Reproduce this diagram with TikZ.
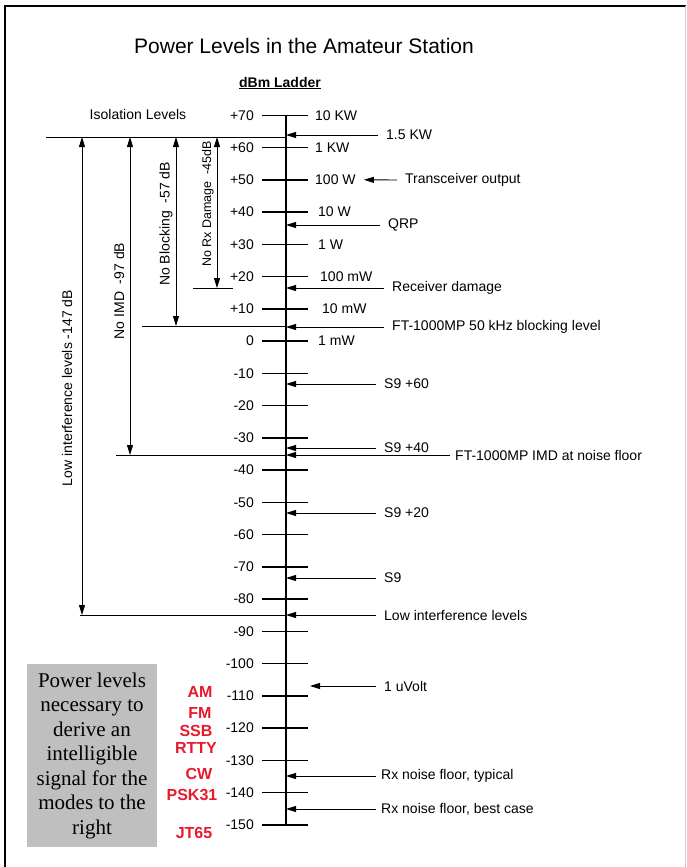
\documentclass[tikz,border=0pt]{standalone}
\usepackage{fontspec}
\setmainfont{Liberation Sans}
\newfontfamily\boxfont{Liberation Serif}
\usepackage{tikz}
\usetikzlibrary{arrows.meta,calc}
\definecolor{modered}{HTML}{E8192C}
\definecolor{boxgray}{HTML}{BFBFBF}

\begin{document}
\begin{tikzpicture}[
  x=1pt,y=-1pt,font=\fontsize{14}{16}\selectfont,
  tk/.style={line width=1.5pt},
  lvl/.style={line width=0.9pt},
  pt/.style={-{Triangle[length=10pt,width=6pt]},line width=0.9pt},
  dbl/.style={{Triangle[length=10pt,width=6pt]}-{Triangle[length=10pt,width=6pt]},line width=0.9pt},
  ann/.style={anchor=west,inner xsep=8pt,inner ysep=1pt},
  lab/.style={inner sep=0pt},
  mode/.style={text=modered,font=\fontsize{16}{18}\selectfont\bfseries},
  note/.style={fill=boxgray,minimum width=130pt,minimum height=183pt,align=center,font=\boxfont\fontsize{21}{24.5}\selectfont}
]
\useasboundingbox (0,0) rectangle (686,867);
\draw[line width=1.2pt] (5,867) -- (5,6) -- (686,6);
\draw[black!20] (685,6) -- (685,867);

\node[font=\fontsize{21}{24}\selectfont] (title) at (304,46) {Power Levels in the Amateur Station};
\node[font=\fontsize{14}{16}\selectfont\bfseries] (ladder) at (280,83) {\underline{dBm Ladder}};
\node (iso) at (138,114) {Isolation Levels};

% the ladder
\coordinate (axtop) at (286,115.25);
\coordinate (axbot) at (286,824.75);
\draw[line width=1.6pt] (axtop) -- (axbot);
\foreach \v [count=\i] in {70,60,...,-150}{
  \pgfmathsetmacro\yy{341-3.225*\v}
  \draw[tk] (262,\yy) -- (308,\yy);
  \node[lab,anchor=east] (d\i) at (254,\yy) {\ifnum\v>0 +\fi\v};
}
\foreach \v/\x/\t in {70/315/10 KW,60/315/1 KW,50/315/100 W,40/318/10 W,30/318/1 W,20/320/100 mW,10/322/10 mW,0/318/1 mW}{
  \pgfmathsetmacro\yy{341-3.225*\v}
  \node[lab,anchor=west] (w\v) at (\x,\yy) {\t};
}

% isolation levels
\coordinate (isoL) at (46,137);
\coordinate (liL) at (80,615);
\coordinate (imdL) at (116,455);
\coordinate (blkL) at (142,326);
\coordinate (rxL) at (193,288);
\coordinate (rxR) at (233,288);
\draw[lvl] (isoL) -- (isoL -| axtop);
\draw[lvl] (liL) -- (liL -| axtop);
\draw[lvl] (imdL) -- (imdL -| axtop);
\draw[lvl] (blkL) -- (blkL -| axtop);
\draw[lvl] (rxL) -- (rxR);

\coordinate (liT) at (82,137);
\coordinate (imdT) at (130,137);
\coordinate (blkT) at (176,137);
\coordinate (rxT) at (217,137);
\draw[dbl] (liT) -- (liT |- liL);
\draw[dbl] (imdT) -- (imdT |- imdL);
\draw[dbl] (blkT) -- (blkT |- blkL);
\draw[dbl] (rxT) -- (rxT |- rxL);

\node[rotate=90] (lilab) at (67,388) {Low interference levels -147 dB};
\node[rotate=90] (imdlab) at (119,291) {No IMD\ \ -97 dB};
\node[rotate=90] (blklab) at (166,224) {No Blocking\ \ -57 dB};
\node[rotate=90,font=\fontsize{12.5}{14}\selectfont] (rxlab) at (208,204) {No Rx Damage\ \ -45dB};

% pointers on the right
\node[ann] (kw15) at (378,135) {1.5 KW};
\node[ann] (txo) at (397,180) {Transceiver output};
\node[ann] (qrp) at (380,225) {QRP};
\node[ann] (rxd) at (384,288) {Receiver damage};
\node[ann] (blk) at (384,327) {FT-1000MP 50 kHz blocking level};
\node[ann] (s60) at (376,384) {S9 +60};
\node[ann] (s40) at (376,448) {S9 +40};
\node[ann,inner xsep=5pt] (imd) at (450,455) {FT-1000MP IMD at noise floor};
\node[ann] (s20) at (376,513) {S9 +20};
\node[ann] (s9) at (376,578) {S9};
\node[ann] (li) at (376,615) {Low interference levels};
\node[ann] (uv) at (376,686) {1 uVolt};
\node[ann,inner xsep=5pt] (nft) at (376,776) {Rx noise floor, typical};
\node[ann,inner xsep=5pt] (nfb) at (376,809) {Rx noise floor, best case};
\coordinate (uvtip) at (310,686);

\foreach \n in {kw15,qrp,rxd,blk,s60,s40,imd,s20,s9,li,nft,nfb}
  \draw[pt] (\n.west) -- (\n.west -| axtop);
\draw[pt,shorten >=8pt] (txo.west) -- (w50.east);
\draw[pt] (uv.west) -- (uvtip);

% modes
\node[note] (modes) at (92,755.5) {Power levels\\necessary to\\derive an\\intelligible\\signal for the\\modes to the\\right};
\foreach \t/\x/\y [count=\i] in {AM/200/692,FM/200/713,SSB/196/731,RTTY/196/748,CW/199/774,PSK31/192/795,JT65/194/833}
  \node[mode,inner sep=0pt] (m\i) at (\x,\y) {\t};
\end{tikzpicture}
\end{document}
